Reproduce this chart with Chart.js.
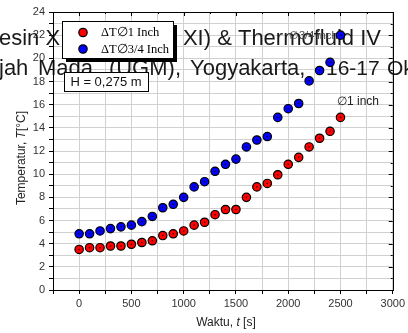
<!DOCTYPE html>
<html>
<head>
<meta charset="utf-8">
<script src="https://cdn.jsdelivr.net/npm/chart.js@4.4.1/dist/chart.umd.min.js"></script>
<style>
  html, body { margin: 0; padding: 0; background: #fff; }
  #wrap { width: 408px; height: 333px; }
</style>
</head>
<body>
<div id="wrap"><canvas id="grafik" width="408" height="333"></canvas></div>
<script>
// data (waktu dalam detik, suhu dalam derajat C)
const waktu = [0, 100, 200, 300, 400, 500, 600, 700, 800, 900, 1000, 1100, 1200,
               1300, 1400, 1500, 1600, 1700, 1800, 1900, 2000, 2100, 2200, 2300, 2400, 2500];
const suhu1Inch = [3.5, 3.65, 3.65, 3.8, 3.8, 3.95, 4.1, 4.25, 4.7, 4.85, 5.1, 5.6, 5.85,
                   6.5, 6.95, 6.95, 8.0, 8.9, 9.2, 9.95, 10.85, 11.45, 12.35, 13.1, 13.7, 14.9];
const suhu34Inch = [4.85, 4.85, 5.1, 5.3, 5.45, 5.6, 5.9, 6.35, 7.1, 7.4, 8.0, 8.9, 9.35,
                    10.25, 10.85, 11.3, 12.35, 12.95, 13.25, 14.9, 15.65, 16.1, 18.05, 18.95, 19.65, 22.0];
const labelSeri = ['\u0394T\u22051 Inch', '\u0394T\u22053/4 Inch'];
const warnaSeri = ['#ff0000', '#0000ff'];

const sans = 'Arial, "Liberation Sans", sans-serif';

function toPoints(ys) {
    return waktu.map((t, i) => ({ x: t, y: ys[i] }));
}

// Plugin untuk teks latar, kotak legenda, bingkai dan judul sumbu
const hiasan = {
    id: 'hiasan',
    beforeDatasetsDraw(chart) {
        const c = chart.ctx;
        c.save();
        // teks header makalah yang ikut terpotong (spasi rata kiri-kanan)
        c.fillStyle = '#1a1a1a';
        c.font = '22px ' + sans;
        c.textBaseline = 'alphabetic';
        c.textAlign = 'left';
        c.fillText('esin XI (SNTTM', -1, 45);
        c.fillText('jah', -1, 75);
        c.fillText('Mada', 38, 75);
        c.fillText('Yogyakarta,', 190, 75);
        c.font = '21px ' + sans;
        c.fillText('16-17', 326, 75);
        c.fillText('Oktober', 387, 75);
        c.font = '22px ' + sans;
        c.textAlign = 'right';
        c.fillText('XI) & Thermofluid IV', 381, 45);
        c.fillText('(UGM),', 181, 75);

        // anotasi diameter
        c.textAlign = 'left';
        c.font = '11px ' + sans;
        c.fillStyle = '#444';
        c.textBaseline = 'middle';
        c.fillText('\u22053/4 inch', 289, 36);
        c.font = '12px ' + sans;
        c.fillStyle = '#222';
        c.fillText('\u22051 inch', 337, 102);
        c.restore();
    },
    afterDatasetsDraw(chart) {
        const c = chart.ctx;
        const a = chart.chartArea;
        c.save();
        // titik kecil di tengah marker
        chart.data.datasets.forEach((ds, i) => {
            chart.getDatasetMeta(i).data.forEach(p => {
                c.beginPath();
                c.arc(p.x, p.y, 0.8, 0, Math.PI * 2);
                c.fillStyle = '#300';
                c.fill();
            });
        });

        // bingkai kanan & atas dengan tick ke dalam
        c.strokeStyle = '#000';
        c.lineWidth = 1;
        c.strokeRect(Math.round(a.left) + 0.5, Math.round(a.top) + 0.5,
                     Math.round(a.right - a.left), Math.round(a.bottom - a.top));
        const sx = chart.scales.x, sy = chart.scales.y;
        c.beginPath();
        for (let v = 0; v <= 24; v++) {
            const y = Math.round(sy.getPixelForValue(v)) + 0.5;
            const len = v % 2 === 0 ? 4 : 2;
            c.moveTo(a.right, y); c.lineTo(a.right - len, y);
        }
        for (let v = -250; v <= 3000; v += 250) {
            const x = Math.round(sx.getPixelForValue(v)) + 0.5;
            const len = v % 500 === 0 ? 4 : 2;
            c.moveTo(x, a.top); c.lineTo(x, a.top + len);
        }
        c.stroke();

        // kotak legenda dengan bayangan
        const lx = 62, ly = 21, lw = 111, lh = 37;
        c.fillStyle = '#000';
        c.fillRect(lx + 4, ly + 4, lw, lh);
        c.fillStyle = '#fff';
        c.fillRect(lx, ly, lw, lh);
        c.strokeRect(lx + 0.5, ly + 0.5, lw, lh);
        c.font = '12.5px "Times New Roman", "Liberation Serif", serif';
        c.textBaseline = 'middle';
        c.textAlign = 'left';
        labelSeri.forEach((lab, i) => {
            const yy = 32.5 + i * 16.5;
            c.beginPath();
            c.arc(83, yy, 4.2, 0, Math.PI * 2);
            c.fillStyle = warnaSeri[i];
            c.fill();
            c.lineWidth = 1.2;
            c.strokeStyle = '#000';
            c.stroke();
            c.fillStyle = '#000';
            c.fillText(lab, 101, yy + 0.5);
        });

        // kotak tinggi H
        c.lineWidth = 1;
        c.fillStyle = '#fff';
        c.fillRect(64, 72, 84, 19);
        c.strokeRect(64.5, 72.5, 84, 19);
        c.fillStyle = '#111';
        c.font = '13px ' + sans;
        c.textAlign = 'center';
        c.fillText('H = 0,275 m', 106, 82.5);

        // judul sumbu (huruf miring untuk simbol)
        c.fillStyle = '#222';
        c.textBaseline = 'middle';
        const tulis = (parts, x, y) => {
            let w = 0;
            parts.forEach(p => { c.font = p[1] + '12px ' + sans; w += c.measureText(p[0]).width; });
            let cx = x - w / 2;
            c.textAlign = 'left';
            parts.forEach(p => {
                c.font = p[1] + '12px ' + sans;
                c.fillText(p[0], cx, y);
                cx += c.measureText(p[0]).width;
            });
        };
        tulis([['Waktu, ', ''], ['t', 'italic '], [' [s]', '']], 226, 323);
        c.translate(22, 158);
        c.rotate(-Math.PI / 2);
        tulis([['Temperatur, ', ''], ['T', 'italic '], ['[\u00B0C]', '']], 0, 0);
        c.restore();
    }
};

const ctx = document.getElementById('grafik').getContext('2d');
new Chart(ctx, {
    type: 'scatter',
    data: {
        datasets: [
            {
                label: labelSeri[0],
                data: toPoints(suhu1Inch),
                backgroundColor: warnaSeri[0],
                borderColor: '#000',
                borderWidth: 1.2,
                pointRadius: 4.2
            },
            {
                label: labelSeri[1],
                data: toPoints(suhu34Inch),
                backgroundColor: warnaSeri[1],
                borderColor: '#000',
                borderWidth: 1.2,
                pointRadius: 4.2
            }
        ]
    },
    options: {
        responsive: false,
        animation: false,
        layout: { padding: { top: 12, right: 11, left: 0, bottom: 0 } },
        plugins: { legend: { display: false }, tooltip: { enabled: false } },
        scales: {
            x: {
                type: 'linear',
                min: -250,
                max: 3000,
                afterFit: s => { s.height = 43; },
                ticks: {
                    stepSize: 250,
                    autoSkip: false,
                    maxRotation: 0,
                    padding: 3,
                    color: '#333',
                    font: { family: sans, size: 11 },
                    callback: v => (v >= 0 && v % 500 === 0) ? v : ''
                },
                grid: { color: '#d0d0d0', lineWidth: 1, tickLength: 4, tickColor: '#000' },
                border: { display: true, color: '#000', width: 1 }
            },
            y: {
                min: 0,
                max: 24,
                afterFit: s => { s.width = 53; },
                ticks: {
                    stepSize: 1,
                    autoSkip: false,
                    padding: 4,
                    color: '#333',
                    font: { family: sans, size: 11 },
                    callback: v => v % 2 === 0 ? v : ''
                },
                grid: { color: '#d0d0d0', lineWidth: 1, tickLength: 4, tickColor: '#000' },
                border: { display: true, color: '#000', width: 1 }
            }
        }
    },
    plugins: [hiasan]
});
</script>
</body>
</html>
